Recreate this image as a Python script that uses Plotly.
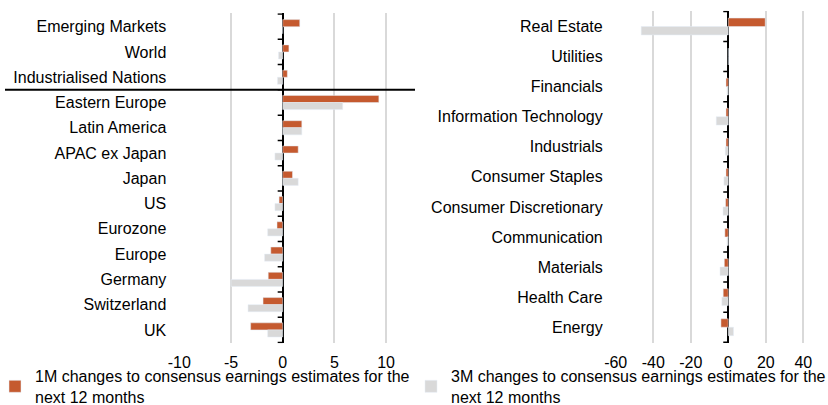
import plotly.graph_objects as go

W, H = 828, 405

regions = ["Emerging Markets", "World", "Industrialised Nations", "Eastern Europe",
           "Latin America", "APAC ex Japan", "Japan", "US", "Eurozone", "Europe",
           "Germany", "Switzerland", "UK"]
regions_1m = [1.65, 0.6, 0.45, 9.3, 1.85, 1.5, 0.95, -0.35, -0.55, -1.15, -1.4, -1.9, -3.1]
regions_3m = [0.0, -0.4, -0.5, 5.8, 1.85, -0.75, 1.5, -0.75, -1.45, -1.75, -5.0, -3.35, -1.45]

sectors = ["Real Estate", "Utilities", "Financials", "Information Technology",
           "Industrials", "Consumer Staples", "Consumer Discretionary", "Communication",
           "Materials", "Health Care", "Energy"]
sectors_1m = [19.7, 0.0, -1.2, -1.2, -1.2, -1.2, -1.4, -1.8, -2.1, -2.7, -3.9]
sectors_3m = [-46.4, 0.0, -0.7, -6.4, -1.6, -2.3, -2.8, -0.7, -4.4, -3.4, 2.8]

left_ticks = [-10, -5, 0, 5, 10]
left_tick_text = ["-10", "-5", "0", "5", "10"]
right_ticks = [-60, -40, -20, 0, 20, 40]
right_tick_text = ["-60", "-40", "-20", "0", "20", "40"]

name_1m = "1M changes to consensus earnings estimates for the<br>next 12 months"
name_3m = "3M changes to consensus earnings estimates for the<br>next 12 months"

ORANGE = "#C55A2F"
GREY = "#D9D9D9"
FONT = dict(family="Liberation Sans, Arial, sans-serif", size=16, color="#000000")

fig = go.Figure()
fig.add_trace(go.Bar(y=regions, x=regions_1m, orientation="h", marker_color=ORANGE,
                     name=name_1m, xaxis="x", yaxis="y", legend="legend", showlegend=True))
fig.add_trace(go.Bar(y=regions, x=regions_3m, orientation="h", marker_color=GREY,
                     name=name_3m, xaxis="x", yaxis="y", showlegend=False))
fig.add_trace(go.Bar(y=sectors, x=sectors_1m, orientation="h", marker_color=ORANGE,
                     name=name_1m, xaxis="x2", yaxis="y2", showlegend=False))
fig.add_trace(go.Bar(y=sectors, x=sectors_3m, orientation="h", marker_color=GREY,
                     name=name_3m, xaxis="x2", yaxis="y2", legend="legend2", showlegend=True))

def px_x(p):
    return p / W

def px_y(p):
    return (H - p) / H

axis_common = dict(showgrid=True, gridcolor=GREY, gridwidth=1.5, zeroline=True,
                   zerolinecolor="#000000", zerolinewidth=1.5, showline=False,
                   ticks="", tickfont=FONT, ticklabelstandoff=8, fixedrange=True,
                   automargin=False)
yaxis_common = dict(autorange="reversed", type="category", showgrid=False, zeroline=False,
                    ticks="", tickfont=FONT, ticklabelstandoff=12, fixedrange=True,
                    automargin=False)

fig.update_layout(
    width=W, height=H,
    margin=dict(l=0, r=0, t=0, b=0, autoexpand=False),
    paper_bgcolor="white", plot_bgcolor="white",
    barmode="group", bargap=0.44, bargroupgap=0,
    hovermode=False,
    font=FONT,
    xaxis=dict(domain=[px_x(179.3), px_x(414)], range=[-10, 12.7],
               tickvals=left_ticks, ticktext=left_tick_text, anchor="y", **axis_common),
    yaxis=dict(domain=[px_y(343.3), px_y(13.3)], anchor="x", **yaxis_common),
    xaxis2=dict(domain=[px_x(615.7), px_x(826)], range=[-60, 52.1],
                tickvals=right_ticks, ticktext=right_tick_text, anchor="y2", **axis_common),
    yaxis2=dict(domain=[px_y(343.0), px_y(10.7)], anchor="x2", **yaxis_common),
    legend=dict(x=0, y=px_y(414), xanchor="left", yanchor="bottom", indentation=-5,
                font=FONT, bgcolor="rgba(0,0,0,0)", itemclick=False),
    legend2=dict(x=px_x(416), y=px_y(414), xanchor="left", yanchor="bottom", indentation=-5,
                 font=FONT, bgcolor="rgba(0,0,0,0)", itemclick=False),
)

# category-boundary tick marks on the zero axis
for ax, cats in (("", regions), ("2", sectors)):
    for i in range(len(cats) + 1):
        fig.add_shape(type="line", xref="x" + ax, yref="y" + ax,
                      xsizemode="pixel", xanchor=0, x0=-5, x1=0,
                      y0=i - 0.5, y1=i - 0.5,
                      line=dict(color="#000000", width=1.5))

# separator between aggregate regions and individual regions
fig.add_shape(type="line", xref="paper", yref="y", x0=px_x(5), x1=px_x(415),
              y0=2.5, y1=2.5, line=dict(color="#000000", width=2))

# remove the default page margin so the 828x405 figure fills the window exactly
fig.write_html("out.html", config={"displayModeBar": False},
               post_script="document.body.style.margin='0';")
